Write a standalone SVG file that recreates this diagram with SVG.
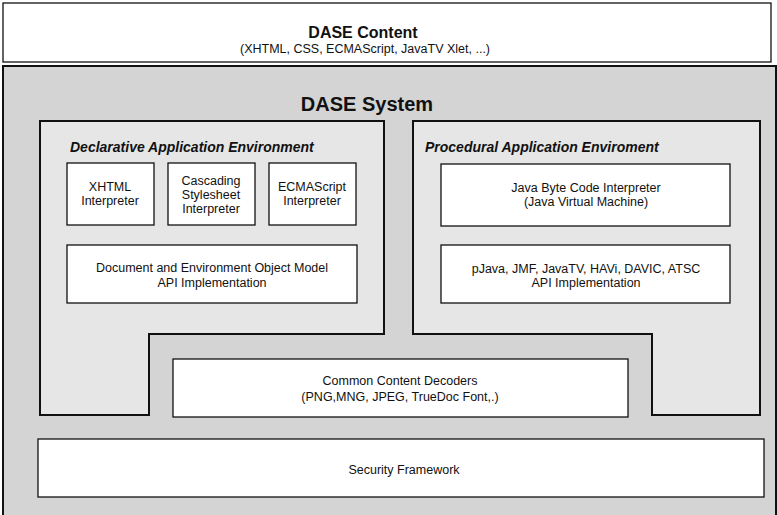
<svg xmlns="http://www.w3.org/2000/svg" width="777" height="515" viewBox="0 0 777 515">
<style>
.box{fill:#ffffff;stroke:#111;stroke-width:1.3}
.env{fill:#e6e6e6;stroke:#111;stroke-width:2}
.t{font-family:"Liberation Sans",Arial,sans-serif;font-size:12.5px;fill:#111;text-anchor:middle}
.h{font-family:"Liberation Sans",Arial,sans-serif;font-weight:bold;fill:#111;text-anchor:middle}
.et{font-family:"Liberation Sans",Arial,sans-serif;font-weight:bold;font-style:italic;font-size:14px;fill:#111}
</style>
<rect width="777" height="515" fill="#ffffff"/>
<g id="dase-content">
<rect x="3" y="3" width="768" height="59" fill="#ffffff" stroke="#111" stroke-width="1.3"/>
<text class="h" x="363" y="38" font-size="16">DASE Content</text>
<text class="t" x="365" y="53" font-size="11">(XHTML, CSS, ECMAScript, JavaTV Xlet, ...)</text>
</g>
<g id="dase-system">
<rect x="3" y="66" width="773" height="455" fill="#d4d4d4" stroke="#111" stroke-width="2"/>
<text class="h" x="367" y="111" font-size="20">DASE System</text>
</g>
<g id="declarative-env">
<path class="env" d="M40,121 H384 V334 H149 V415 H40 Z"/>
<text class="et" x="70" y="152">Declarative Application Environment</text>
</g>
<g id="xhtml">
<rect class="box" x="67" y="163" width="87" height="62"/>
<text class="t" x="110" y="191">XHTML</text>
<text class="t" x="110" y="205">Interpreter</text>
</g>
<g id="css">
<rect class="box" x="168" y="163" width="87" height="62"/>
<text class="t" x="211" y="185">Cascading</text>
<text class="t" x="211" y="199">Stylesheet</text>
<text class="t" x="211" y="213">Interpreter</text>
</g>
<g id="ecmascript">
<rect class="box" x="269" y="163" width="87" height="62"/>
<text class="t" x="312" y="191">ECMAScript</text>
<text class="t" x="312" y="205">Interpreter</text>
</g>
<g id="dom">
<rect class="box" x="67" y="245" width="290" height="58"/>
<text class="t" x="212" y="272" font-size="13">Document and Environment Object Model</text>
<text class="t" x="212" y="287" font-size="13">API Implementation</text>
</g>
<g id="procedural-env">
<path class="env" d="M413,121 H760 V415 H652 V334 H413 Z"/>
<text class="et" x="425" y="152">Procedural Application Enviroment</text>
</g>
<g id="jvm">
<rect class="box" x="441" y="164" width="289" height="62"/>
<text class="t" x="586" y="192" font-size="13">Java Byte Code Interpreter</text>
<text class="t" x="586" y="206" font-size="13">(Java Virtual Machine)</text>
</g>
<g id="java-apis">
<rect class="box" x="441" y="245" width="289" height="58"/>
<text class="t" x="586" y="273" font-size="13">pJava, JMF, JavaTV, HAVi, DAVIC, ATSC</text>
<text class="t" x="586" y="287" font-size="13">API Implementation</text>
</g>
<g id="decoders">
<rect class="box" x="173" y="359" width="455" height="58"/>
<text class="t" x="400" y="385" font-size="14">Common Content Decoders</text>
<text class="t" x="400" y="401" font-size="14">(PNG,MNG, JPEG, TrueDoc Font,.)</text>
</g>
<g id="security">
<rect class="box" x="38" y="439" width="726" height="58" fill="#eeeeee"/>
<text class="t" x="404" y="474" font-size="14">Security Framework</text>
</g>
<g id="connectors"></g>
</svg>
